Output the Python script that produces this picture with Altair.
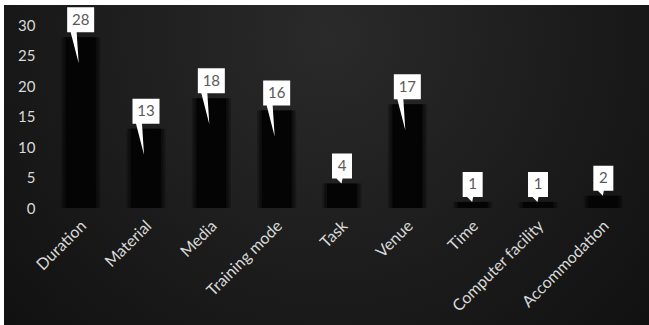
import altair as alt
import pandas as pd

categories = ["Duration", "Material", "Media", "Training mode", "Task", "Venue",
              "Time", "Computer facility", "Accommodation"]
values = [28, 13, 18, 16, 4, 17, 1, 1, 2]
labels = [str(v) for v in values]

df = pd.DataFrame({"cat": categories, "val": values, "label": labels})
df["kind"] = ["wide" if len(s) > 1 else "narrow" for s in labels]

# callout shapes (scale: 1 unit = 40 px, size 6400)
path_wide = ("M-0.3375,-0.75 L0.3375,-0.75 L0.3375,-0.125 L-0.1,-0.125 "
             "L-0.05,0.65 L-0.25,-0.125 L-0.3375,-0.125 Z")
path_narrow = ("M-0.25,-0.75 L0.25,-0.75 L0.25,-0.125 L0.0125,-0.125 "
               "L-0.0125,0 L-0.1375,-0.125 L-0.25,-0.125 Z")

W, H = 588, 183
PL, PT = 48, 25

x_enc = alt.X("cat:N", sort=categories,
              scale=alt.Scale(paddingInner=0.5, paddingOuter=0.25),
              axis=alt.Axis(title=None, labelAngle=-45, labelAlign="right",
                            labelBaseline="middle", labelColor="#d9d9d9",
                            labelFont="Lato", labelFontSize=16, labelPadding=15,
                            labelOffset=3,
                            domain=False, ticks=False, grid=False, zindex=2))
y_enc = alt.Y("val:Q", scale=alt.Scale(domain=[0, 30], nice=False),
              axis=alt.Axis(title=None, values=[0, 5, 10, 15, 20, 25, 30],
                            labelColor="#d9d9d9", labelFont="Lato",
                            labelFontSize=15, labelPadding=13,
                            domain=False, ticks=False, grid=False, zindex=2))

bg = alt.Chart(pd.DataFrame({"a": [0]})).mark_rect(
    color=alt.Gradient(
        gradient="radial",
        stops=[alt.GradientStop(offset=0, color="#2a2a2a"),
               alt.GradientStop(offset=1, color="#0c0c0c")],
        x1=0.5, y1=0.3, x2=0.5, y2=0.3, r1=0, r2=0.8),
).encode(x=alt.value(4 - PL), x2=alt.value(649 - PL),
         y=alt.value(5 - PT), y2=alt.value(325 - PT))

base = alt.Chart(df)

glow = base.mark_bar(width=39, color="#000000", opacity=0.25).encode(x=x_enc, y=y_enc)
glow2 = base.mark_bar(width=35, color="#000000", opacity=0.35).encode(x=x_enc, y=y_enc)
bars = base.mark_bar(width=30, color="#030303", opacity=0.9).encode(x=x_enc, y=y_enc)

callout = base.mark_point(filled=True, size=6400, color="white", opacity=1,
                          strokeWidth=0).encode(
    x=x_enc, y=y_enc,
    shape=alt.Shape("kind:N", scale=alt.Scale(domain=["wide", "narrow"],
                                              range=[path_wide, path_narrow]),
                    legend=None))

text = base.mark_text(font="Lato", fontSize=15, color="#595959", yOffset=-17.5,
                      baseline="middle", align="center").encode(
    x=x_enc, y=y_enc, text="label:N")

chart = alt.layer(bg, glow, glow2, bars, callout, text).properties(
    width=W, height=H,
    autosize=alt.AutoSizeParams(type="none"),
    padding={"left": PL, "top": PT, "right": 649 - PL - W, "bottom": 325 - PT - H},
    background="white",
).configure_view(stroke=None)

chart.save("out.html", embed_options={"renderer": "svg", "actions": False})
